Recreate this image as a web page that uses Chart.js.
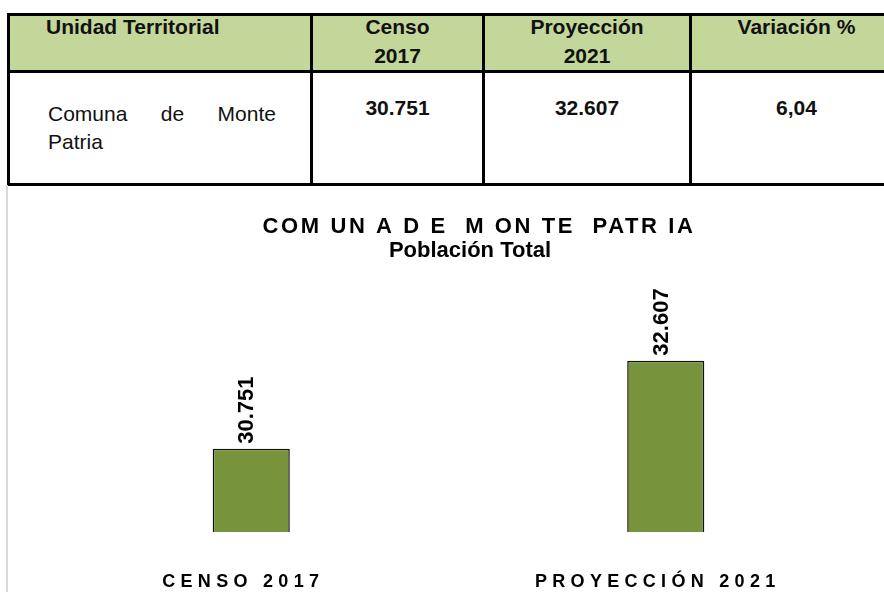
<!DOCTYPE html>
<html lang="es">
<head>
<meta charset="UTF-8">
<title>Comuna de Monte Patria - Población Total</title>
<script src="https://cdn.jsdelivr.net/npm/chart.js"></script>
<style>
    html, body { margin: 0; padding: 0; background: #fff; }
    body { width: 884px; height: 592px; overflow: hidden; position: relative; font-family: 'Liberation Sans', Arial, sans-serif; }
    table {
        position: absolute; left: 7px; top: 13px;
        border-collapse: collapse; table-layout: fixed; width: 894px;
        font-size: 21px; line-height: 28px; color: #111;
    }
    td { border: 3px solid #000; vertical-align: top; padding: 0; box-sizing: border-box; }
    td div { margin-top: -2px; }
    tr.head td { background: #c4d79b; font-weight: bold; text-align: center; height: 57px; white-space: pre-line; line-height: 29px; }
    tr.head td div { height: 44px; margin-top: -4px; }
    tr.head td.first { text-align: left; padding-left: 36px; }
    tr.row td { height: 113px; text-align: center; font-weight: bold; padding-top: 23px; }
    tr.row td.first { font-weight: normal; text-align: justify; padding: 29px 34px 0 38px; }
    .frame { position: absolute; left: 6px; top: 185px; width: 2px; height: 407px; background: #d9d9d9; }
    .chart-box { position: absolute; left: 0; top: 190px; width: 884px; height: 402px; }
</style>
</head>
<body>
<table id="tabla">
    <colgroup><col style="width:303px"><col style="width:172px"><col style="width:207px"><col style="width:212px"></colgroup>
    <tr class="head"></tr>
    <tr class="row"></tr>
</table>
<div class="frame"></div>
<div class="chart-box"><canvas id="grafico"></canvas></div>
<script>
    // datos
    const encabezados = ['Unidad Territorial', 'Censo\n2017', 'Proyección\n2021', 'Variación %'];
    const unidad = 'Comuna de Monte Patria';
    const categorias = ['CENSO 2017', 'PROYECCIÓN 2021'];
    const poblacion = [30751, 32607];
    const variacion = 6.04;
    const titulo = 'COM UN A D E  M ON TE  PATR IA';
    const subtitulo = 'Población Total';

    const miles = n => String(n).replace(/\B(?=(\d{3})+(?!\d))/g, '.');

    // tabla
    function celda(fila, texto, i) {
        const td = document.createElement('td');
        if (i === 0) td.className = 'first';
        const div = document.createElement('div');
        div.textContent = texto;
        td.appendChild(div);
        fila.appendChild(td);
    }
    const filaHead = document.querySelector('tr.head');
    encabezados.forEach((t, i) => celda(filaHead, t, i));
    const filaDatos = document.querySelector('tr.row');
    [unidad, miles(poblacion[0]), miles(poblacion[1]), variacion.toFixed(2).replace('.', ',')]
        .forEach((t, i) => celda(filaDatos, t, i));

    // espaciado de letras en etiquetas del eje x
    const espaciado = {
        id: 'espaciado',
        beforeDraw(chart) { chart.ctx.letterSpacing = '5.3px'; },
        beforeDatasetsDraw(chart) { chart.ctx.letterSpacing = '0px'; }
    };

    const titulos = {
        id: 'titulos',
        afterDraw(chart) {
            const ctx = chart.ctx;
            ctx.save();
            ctx.fillStyle = '#000';
            ctx.textAlign = 'center';
            ctx.textBaseline = 'alphabetic';
            ctx.font = 'bold 22px "Liberation Sans", Arial, sans-serif';
            ctx.letterSpacing = '2.6px';
            ctx.fillText(titulo, 479, 43);
            ctx.letterSpacing = '0px';
            ctx.fillText(subtitulo, 470, 67);
            ctx.restore();
        }
    };

    const etiquetas = {
        id: 'etiquetas',
        afterDatasetsDraw(chart) {
            const ctx = chart.ctx;
            const meta = chart.getDatasetMeta(0);
            ctx.save();
            ctx.fillStyle = '#000';
            ctx.font = 'bold 22px "Liberation Sans", Arial, sans-serif';
            ctx.textAlign = 'left';
            ctx.textBaseline = 'alphabetic';
            meta.data.forEach((bar, i) => {
                ctx.save();
                ctx.translate(bar.x + 2, bar.y - 5);
                ctx.rotate(-Math.PI / 2);
                ctx.fillText(miles(poblacion[i]), 0, 0);
                ctx.restore();
            });
            ctx.restore();
        }
    };

    new Chart(document.getElementById('grafico'), {
        type: 'bar',
        data: {
            labels: categorias,
            datasets: [{
                label: subtitulo,
                data: poblacion,
                backgroundColor: '#77933c',
                borderColor: '#111',
                borderWidth: 1.5,
                barPercentage: 0.186,
                categoryPercentage: 1
            }]
        },
        options: {
            responsive: true,
            maintainAspectRatio: false,
            animation: false,
            layout: { padding: { left: 44, right: 11, top: 152, bottom: 0 } },
            plugins: {
                legend: { display: false },
                tooltip: { enabled: false }
            },
            scales: {
                x: {
                    grid: { display: false, drawTicks: false },
                    border: { display: false },
                    ticks: {
                        color: '#000',
                        padding: 39,
                        labelOffset: -8,
                        autoSkip: false,
                        maxRotation: 0,
                        font: { family: '"Liberation Sans", Arial, sans-serif', size: 18, weight: 'bold' }
                    },
                    afterFit(scale) { scale.height = 60; }
                },
                y: {
                    display: false,
                    min: 29000,
                    max: 33000
                }
            }
        },
        plugins: [espaciado, titulos, etiquetas]
    });
</script>
</body>
</html>
